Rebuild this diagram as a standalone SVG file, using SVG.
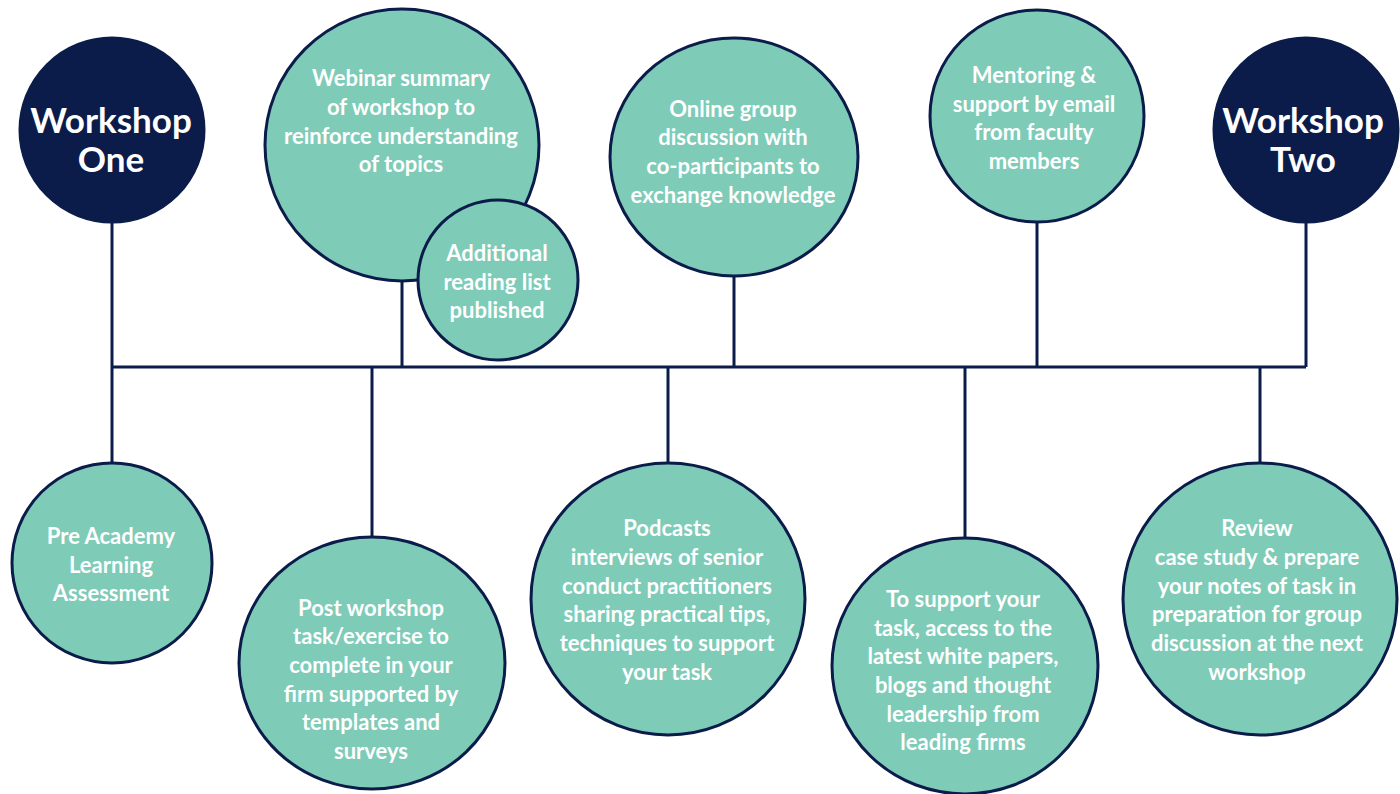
<svg xmlns="http://www.w3.org/2000/svg" width="1400" height="794" viewBox="0 0 1400 794">
<style>
.c{fill:#7ECBB7;stroke:#0B1C4A;stroke-width:3}
.d{fill:#0B1C4A;stroke:#0B1C4A;stroke-width:3}
.t{font-family:Lato,"Open Sans","Liberation Sans",sans-serif;font-weight:700;font-size:22px;fill:#FFFFFF;text-anchor:middle}
.w{font-family:Lato,"Open Sans","Liberation Sans",sans-serif;font-weight:700;font-size:35px;fill:#FFFFFF;text-anchor:middle}
.l{stroke:#0B1C4A;stroke-width:3;fill:none}
</style>
<rect width="1400" height="794" fill="#FFFFFF"/>
<g id="connectors" class="l">
<path d="M112 222V463"/>
<path d="M112 367H1306"/>
<path d="M402 282V367"/>
<path d="M734 276V367"/>
<path d="M1037 223V367"/>
<path d="M1306 222V367"/>
<path d="M372 367V538"/>
<path d="M668 367V463"/>
<path d="M965 367V538"/>
<path d="M1260 367V463"/>
</g>
<g id="workshop-one">
<circle class="d" cx="112" cy="130" r="92"/>
<text class="w" x="111" y="133">Workshop</text>
<text class="w" x="111" y="172">One</text>
</g>
<g id="webinar">
<ellipse class="c" cx="402" cy="145" rx="137" ry="136"/>
<text class="t" x="401" y="86">Webinar summary</text>
<text class="t" x="401" y="115">of workshop to</text>
<text class="t" x="401" y="144">reinforce understanding</text>
<text class="t" x="401" y="172">of topics</text>
</g>
<g id="additional">
<circle class="c" cx="498" cy="280" r="80"/>
<text class="t" x="497" y="261">Additional</text>
<text class="t" x="497" y="290">reading list</text>
<text class="t" x="497" y="318">published</text>
</g>
<g id="online">
<ellipse class="c" cx="734" cy="157" rx="124" ry="119"/>
<text class="t" x="733" y="117">Online group</text>
<text class="t" x="733" y="145">discussion with</text>
<text class="t" x="733" y="174">co-participants to</text>
<text class="t" x="733" y="203">exchange knowledge</text>
</g>
<g id="mentoring">
<ellipse class="c" cx="1037" cy="116" rx="107" ry="106"/>
<text class="t" x="1034" y="83">Mentoring &amp;</text>
<text class="t" x="1034" y="112">support by email</text>
<text class="t" x="1034" y="140">from faculty</text>
<text class="t" x="1034" y="169">members</text>
</g>
<g id="workshop-two">
<circle class="d" cx="1306" cy="130" r="92"/>
<text class="w" x="1303" y="133">Workshop</text>
<text class="w" x="1303" y="172">Two</text>
</g>
<g id="pre-academy">
<circle class="c" cx="112" cy="563" r="100"/>
<text class="t" x="111" y="544">Pre Academy</text>
<text class="t" x="111" y="573">Learning</text>
<text class="t" x="111" y="601">Assessment</text>
</g>
<g id="post-workshop">
<ellipse class="c" cx="372" cy="663" rx="133" ry="126"/>
<text class="t" x="371" y="616">Post workshop</text>
<text class="t" x="371" y="644">task/exercise to</text>
<text class="t" x="371" y="673">complete in your</text>
<text class="t" x="371" y="702">firm supported by</text>
<text class="t" x="371" y="730">templates and</text>
<text class="t" x="371" y="759">surveys</text>
</g>
<g id="podcasts">
<ellipse class="c" cx="668" cy="599" rx="137" ry="136"/>
<text class="t" x="667" y="536">Podcasts</text>
<text class="t" x="667" y="565">interviews of senior</text>
<text class="t" x="667" y="594">conduct practitioners</text>
<text class="t" x="667" y="622">sharing practical tips,</text>
<text class="t" x="667" y="651">techniques to support</text>
<text class="t" x="667" y="680">your task</text>
</g>
<g id="to-support">
<ellipse class="c" cx="965" cy="666" rx="133" ry="128"/>
<text class="t" x="963" y="607">To support your</text>
<text class="t" x="963" y="636">task, access to the</text>
<text class="t" x="963" y="664">latest white papers,</text>
<text class="t" x="963" y="693">blogs and thought</text>
<text class="t" x="963" y="722">leadership from</text>
<text class="t" x="963" y="750">leading firms</text>
</g>
<g id="review">
<ellipse class="c" cx="1260" cy="599" rx="137" ry="136"/>
<text class="t" x="1257" y="536">Review</text>
<text class="t" x="1257" y="565">case study &amp; prepare</text>
<text class="t" x="1257" y="594">your notes of task in</text>
<text class="t" x="1257" y="622">preparation for group</text>
<text class="t" x="1257" y="651">discussion at the next</text>
<text class="t" x="1257" y="680">workshop</text>
</g>
</svg>
